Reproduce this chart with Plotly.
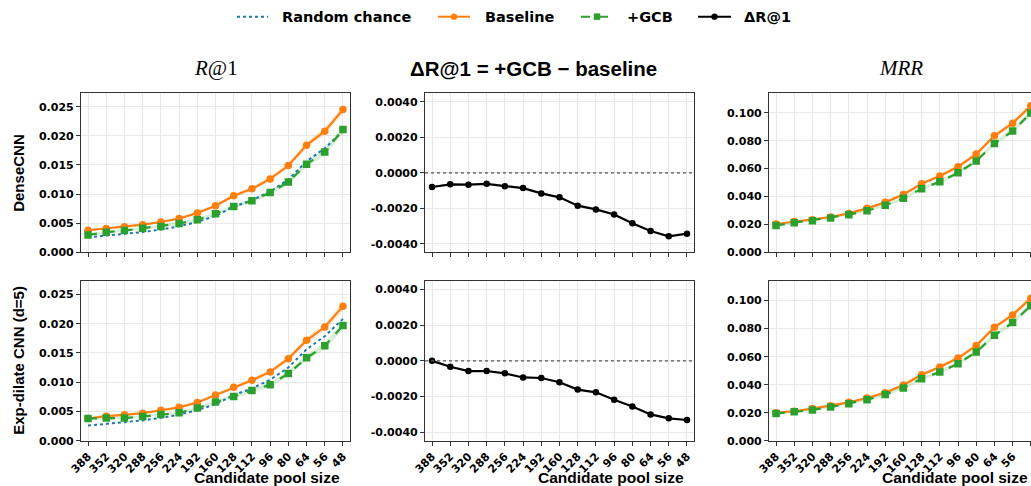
import plotly.graph_objects as go

# ---------------- data ----------------
pool_sizes = ["388", "352", "320", "288", "256", "224", "192", "160", "128", "112", "96", "80", "64", "56", "48"]

random_chance = [0.00258, 0.00284, 0.00313, 0.00347, 0.00391, 0.00446, 0.00521, 0.00625,
                 0.00781, 0.00893, 0.01042, 0.0125, 0.01563, 0.01786, 0.02083]

dense_r1_base = [0.00378, 0.0041, 0.0044, 0.00475, 0.0052, 0.0058, 0.00675, 0.0080,
                 0.0097, 0.0109, 0.0126, 0.0149, 0.0184, 0.0208, 0.0245]
dense_r1_gcb = [0.00298, 0.00345, 0.00373, 0.00413, 0.00445, 0.00494, 0.00559, 0.00662,
                0.00785, 0.00884, 0.01026, 0.01206, 0.01513, 0.01723, 0.02108]
dense_delta = [-0.0008, -0.00065, -0.00067, -0.00062, -0.00075, -0.00086, -0.00116, -0.00138,
               -0.00185, -0.00206, -0.00234, -0.00284, -0.00327, -0.00357, -0.00342]
dense_mrr_base = [0.0203, 0.0220, 0.0234, 0.0253, 0.0279, 0.0315, 0.0358, 0.0415,
                  0.0492, 0.0547, 0.0613, 0.0704, 0.0835, 0.0926, 0.1050]
dense_mrr_gcb = [0.0193, 0.0212, 0.0227, 0.0246, 0.0270, 0.0298, 0.0337, 0.0387,
                 0.0456, 0.0506, 0.0570, 0.0654, 0.0780, 0.0869, 0.0998]

exp_r1_base = [0.0038, 0.0042, 0.00443, 0.0047, 0.0052, 0.0057, 0.00653, 0.0078,
               0.00915, 0.01034, 0.01176, 0.01403, 0.01716, 0.01943, 0.0230]
exp_r1_gcb = [0.0038, 0.00387, 0.00386, 0.00413, 0.0045, 0.00477, 0.00557, 0.0066,
              0.00754, 0.00858, 0.00958, 0.01147, 0.01416, 0.01621, 0.01969]
exp_delta = [0.0, -0.00033, -0.00057, -0.00057, -0.0007, -0.00093, -0.00096, -0.0012,
             -0.00161, -0.00176, -0.00218, -0.00256, -0.0030, -0.00322, -0.00331]
exp_mrr_base = [0.0200, 0.0210, 0.0229, 0.0250, 0.0274, 0.0305, 0.0343, 0.0398,
                0.0471, 0.0526, 0.0590, 0.0679, 0.0810, 0.0898, 0.1017]
exp_mrr_gcb = [0.0195, 0.0207, 0.0219, 0.0240, 0.0264, 0.0293, 0.0329, 0.0376,
               0.0443, 0.0490, 0.0550, 0.0633, 0.0752, 0.0843, 0.0964]

# confidence half-widths (visual estimates)
ci_r1 = [0.0002, 0.0002, 0.0002, 0.0002, 0.0002, 0.0002, 0.00025, 0.0003,
         0.0003, 0.00035, 0.0004, 0.00045, 0.0005, 0.0006, 0.0007]
ci_mrr = [0.0006, 0.0006, 0.0007, 0.0007, 0.0008, 0.0009, 0.001, 0.0011,
          0.0012, 0.0013, 0.0014, 0.0015, 0.0017, 0.0018, 0.002]

legend_names = ["Random chance", "Baseline", "+GCB", "ΔR@1"]
row_labels = ["DenseCNN", "Exp-dilate CNN (d=5)"]
col_titles = ["<i>R</i>@1", "ΔR@1 = +GCB − baseline", "<i>MRR</i>"]
x_title = "Candidate pool size"

r1_ticks = [0.0, 0.005, 0.010, 0.015, 0.020, 0.025]
r1_ticktext = ["0.000", "0.005", "0.010", "0.015", "0.020", "0.025"]
d_ticks = [-0.004, -0.002, 0.0, 0.002, 0.004]
d_ticktext = ["-0.0040", "-0.0020", "0.0000", "0.0020", "0.0040"]
mrr_ticks = [0.0, 0.02, 0.04, 0.06, 0.08, 0.10]
mrr_ticktext = ["0.000", "0.020", "0.040", "0.060", "0.080", "0.100"]

# ---------------- styling ----------------
W, H = 1031, 486
BLUE, ORANGE, GREEN, BLACK = "#1f77b4", "#ff7f0e", "#2ca02c", "#000000"
TICKFONT = dict(family="DejaVu Sans", size=11, color="black", weight="bold")
FRAME = "#333333"
GRID = "#e8e8e8"

col_px = [(81, 350), (425, 694), (769, 1031)]
row_px = [(93.3, 252.3), (281, 440.7)]
xranges = [[-0.385, 14.385], [-0.385, 14.385], [-0.385, 14.01]]
yranges = [[0, 0.0273], [-0.00447, 0.00447], [0, 0.114]]
yticks = [(r1_ticks, r1_ticktext), (d_ticks, d_ticktext), (mrr_ticks, mrr_ticktext)]

idx = list(range(len(pool_sizes)))
fig = go.Figure()


def ax_name(r, c):
    n = r * 3 + c + 1
    return ("x" if n == 1 else f"x{n}"), ("y" if n == 1 else f"y{n}")


def band(xa, ya, vals, ci, color):
    up = [v + e for v, e in zip(vals, ci)]
    lo = [v - e for v, e in zip(vals, ci)]
    fig.add_trace(go.Scatter(x=idx + idx[::-1], y=up + lo[::-1], fill="toself",
                             fillcolor=color, line=dict(width=0), mode="lines",
                             hoverinfo="skip", showlegend=False, xaxis=xa, yaxis=ya))


data = [
    (dense_r1_base, dense_r1_gcb, dense_delta, dense_mrr_base, dense_mrr_gcb),
    (exp_r1_base, exp_r1_gcb, exp_delta, exp_mrr_base, exp_mrr_gcb),
]

for r in range(2):
    r1b, r1g, dl, mb, mg = data[r]
    # column 1: R@1
    xa, ya = ax_name(r, 0)
    band(xa, ya, r1b, ci_r1, "rgba(255,127,14,0.18)")
    band(xa, ya, r1g, ci_r1, "rgba(44,160,44,0.18)")
    fig.add_trace(go.Scatter(x=idx, y=random_chance, mode="lines", name=legend_names[0],
                             line=dict(color=BLUE, width=2, dash="dot"),
                             showlegend=False, xaxis=xa, yaxis=ya))
    fig.add_trace(go.Scatter(x=idx, y=r1b, mode="lines+markers", name=legend_names[1],
                             line=dict(color=ORANGE, width=2.2),
                             marker=dict(symbol="circle", size=7.5, color=ORANGE),
                             showlegend=False, xaxis=xa, yaxis=ya))
    fig.add_trace(go.Scatter(x=idx, y=r1g, mode="lines+markers", name=legend_names[2],
                             line=dict(color=GREEN, width=2.2, dash="dash"),
                             marker=dict(symbol="square", size=7.5, color=GREEN),
                             showlegend=False, xaxis=xa, yaxis=ya))
    # column 2: delta
    xa, ya = ax_name(r, 1)
    fig.add_shape(type="line", xref=f"{xa} domain", yref=ya, x0=0, x1=1, y0=0, y1=0,
                  line=dict(color="#555555", width=1.2, dash="dot"))
    fig.add_trace(go.Scatter(x=idx, y=dl, mode="lines+markers", name=legend_names[3],
                             line=dict(color=BLACK, width=2.2),
                             marker=dict(symbol="circle", size=6.5, color=BLACK),
                             showlegend=False, xaxis=xa, yaxis=ya))
    # column 3: MRR
    xa, ya = ax_name(r, 2)
    band(xa, ya, mb, ci_mrr, "rgba(255,127,14,0.18)")
    band(xa, ya, mg, ci_mrr, "rgba(44,160,44,0.18)")
    fig.add_trace(go.Scatter(x=idx, y=mb, mode="lines+markers", name=legend_names[1],
                             line=dict(color=ORANGE, width=2.2),
                             marker=dict(symbol="circle", size=7.5, color=ORANGE),
                             showlegend=False, xaxis=xa, yaxis=ya))
    fig.add_trace(go.Scatter(x=idx, y=mg, mode="lines+markers", name=legend_names[2],
                             line=dict(color=GREEN, width=2.2, dash="dash"),
                             marker=dict(symbol="square", size=7.5, color=GREEN),
                             showlegend=False, xaxis=xa, yaxis=ya))

layout = dict(width=W, height=H, autosize=False, margin=dict(l=0, r=0, t=0, b=0),
              paper_bgcolor="white", plot_bgcolor="white", showlegend=False)

for r in range(2):
    for c in range(3):
        n = r * 3 + c + 1
        xk = "xaxis" if n == 1 else f"xaxis{n}"
        yk = "yaxis" if n == 1 else f"yaxis{n}"
        xa, ya = ax_name(r, c)
        layout[xk] = dict(domain=[col_px[c][0] / W, col_px[c][1] / W], anchor=ya,
                          range=xranges[c], tickmode="array", tickvals=idx, ticktext=pool_sizes,
                          showticklabels=(r == 1), tickangle=-45, tickfont=TICKFONT,
                          ticks="outside", ticklen=4, tickwidth=1.2, tickcolor=FRAME,
                          showline=True, linecolor=FRAME, linewidth=1.2, mirror=True,
                          showgrid=True, gridcolor=GRID, gridwidth=1, zeroline=False,
                          fixedrange=True, automargin=False)
        tv, tt = yticks[c]
        layout[yk] = dict(domain=[1 - row_px[r][1] / H, 1 - row_px[r][0] / H], anchor=xa,
                          range=yranges[c], tickmode="array", tickvals=tv, ticktext=tt,
                          tickfont=TICKFONT, ticks="outside", ticklen=4, tickwidth=1.2,
                          tickcolor=FRAME, showline=True, linecolor=FRAME, linewidth=1.2,
                          mirror=(c != 2), showgrid=True, gridcolor=GRID, gridwidth=1,
                          zeroline=False, fixedrange=True, automargin=False)

ann = []
# column titles
title_x = [215.5, 533, 901]
for c in range(3):
    if c == 1:
        f = dict(family="Liberation Sans", size=20.5, color="black", weight="bold")
    else:
        f = dict(family="Liberation Serif", size=21, color="black")
    ann.append(dict(text=col_titles[c], x=title_x[c] / W, y=1 - 68 / H, xref="paper", yref="paper",
                    xanchor="center", yanchor="middle", showarrow=False, font=f))
# row labels
for r in range(2):
    cy = (row_px[r][0] + row_px[r][1]) / 2
    ann.append(dict(text=row_labels[r], x=19 / W, y=1 - cy / H, xref="paper", yref="paper",
                    xanchor="center", yanchor="middle", textangle=-90, showarrow=False,
                    font=dict(family="Liberation Sans", size=15, color="black", weight="bold")))
# x-axis titles
for c, xr in enumerate([342, 686, 1030]):
    ann.append(dict(text=x_title, x=xr / W, y=1 - 477.5 / H, xref="paper", yref="paper",
                    xanchor="right", yanchor="middle", showarrow=False,
                    font=dict(family="Liberation Sans", size=15.5, color="black", weight="bold")))

# manual legend (top, centred)
LY = 1 - 16.7 / H
leg_line = [(237, 268), (438, 470), (581, 613), (698, 731)]
leg_text_x = [280, 483, 625, 742]
leg_style = [(BLUE, "dot", None), (ORANGE, "solid", "circle"),
             (GREEN, "dash", "square"), (BLACK, "solid", "circle")]
shapes = []
for (x0, x1), tx, name, (colr, dash, sym) in zip(leg_line, leg_text_x, legend_names, leg_style):
    shapes.append(dict(type="line", xref="paper", yref="paper", x0=x0 / W, x1=x1 / W, y0=LY, y1=LY,
                       line=dict(color=colr, width=2, dash=dash)))
    if sym is not None:
        xm = (x0 + x1) / 2 / W
        shapes.append(dict(type="circle" if sym == "circle" else "rect", xref="paper", yref="paper",
                           xsizemode="pixel", ysizemode="pixel", xanchor=xm, yanchor=LY,
                           x0=-3, x1=3, y0=-3, y1=3, fillcolor=colr, line=dict(color=colr, width=0.5)))
    ann.append(dict(text=name, x=tx / W, y=LY, xref="paper", yref="paper", xanchor="left",
                    yanchor="middle", showarrow=False,
                    font=dict(family="DejaVu Sans", size=14.5, color="black", weight="bold")))

layout["annotations"] = ann
fig.update_layout(**layout)
for s in shapes:
    fig.add_shape(**s)

fig.write_html("out.html", config={"displayModeBar": False},
               post_script="document.body.style.margin='0';document.body.style.overflow='hidden';")
